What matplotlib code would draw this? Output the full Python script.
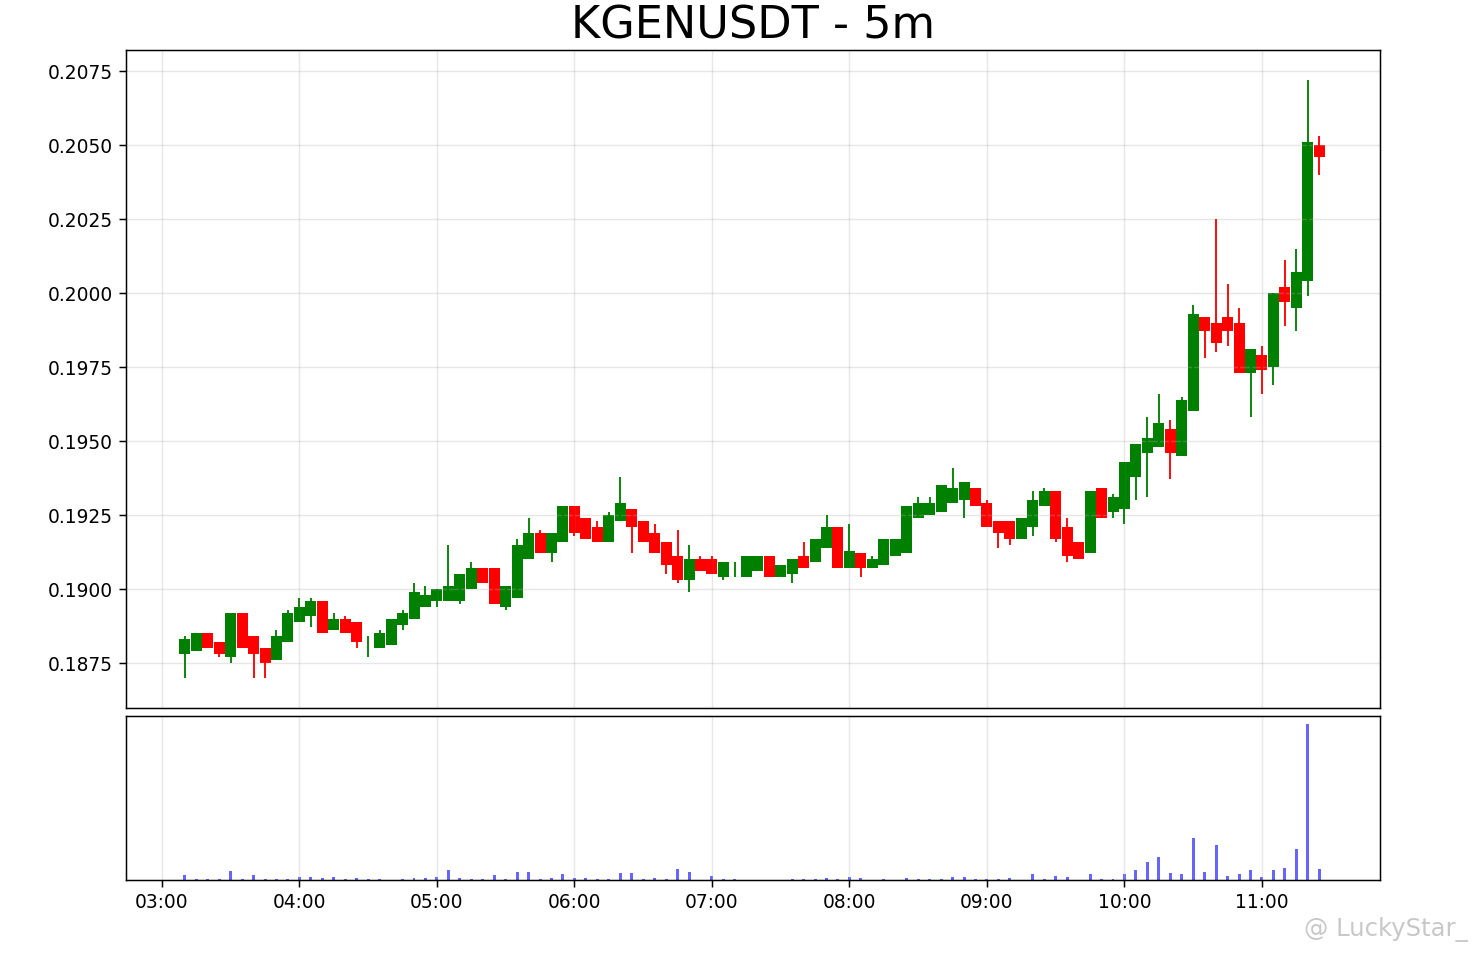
import pandas as pd
import matplotlib
matplotlib.use('Agg')
import matplotlib.pyplot as plt
import matplotlib.dates as mdates

# 5m candles, 03:10 -> 11:25
start = '2025-07-20 03:10'
n_candles = 100

opens = [0.1878, 0.1879, 0.1885, 0.1882, 0.1877, 0.1892, 0.1884, 0.1880, 0.1876, 0.1882,
         0.1889, 0.1891, 0.1896, 0.1886, 0.1890, 0.1889, 0.1881, 0.1880, 0.1881, 0.1888,
         0.1890, 0.1894, 0.1896, 0.1896, 0.1896, 0.1900, 0.1907, 0.1907, 0.1894, 0.1897,
         0.1910, 0.1919, 0.1912, 0.1916, 0.1928, 0.1924, 0.1921, 0.1916, 0.1923, 0.1927,
         0.1923, 0.1919, 0.1916, 0.1911, 0.1903, 0.1910, 0.1910, 0.1904, 0.1907, 0.1904,
         0.1906, 0.1911, 0.1904, 0.1905, 0.1911, 0.1909, 0.1914, 0.1921, 0.1907, 0.1912,
         0.1907, 0.1908, 0.1911, 0.1912, 0.1924, 0.1925, 0.1926, 0.1929, 0.1930, 0.1934,
         0.1929, 0.1923, 0.1923, 0.1917, 0.1921, 0.1928, 0.1933, 0.1921, 0.1916, 0.1912,
         0.1934, 0.1926, 0.1927, 0.1938, 0.1946, 0.1948, 0.1954, 0.1945, 0.1960, 0.1992,
         0.1990, 0.1992, 0.1990, 0.1973, 0.1979, 0.1975, 0.2002, 0.1995, 0.2004, 0.2050]
highs = [0.1884, 0.1885, 0.1885, 0.1882, 0.1892, 0.1892, 0.1884, 0.1880, 0.1886, 0.1893,
         0.1897, 0.1897, 0.1896, 0.1892, 0.1891, 0.1889, 0.1884, 0.1886, 0.1890, 0.1893,
         0.1902, 0.1901, 0.1900, 0.1915, 0.1905, 0.1909, 0.1907, 0.1907, 0.1901, 0.1917,
         0.1924, 0.1920, 0.1919, 0.1928, 0.1928, 0.1924, 0.1923, 0.1926, 0.1938, 0.1927,
         0.1923, 0.1922, 0.1916, 0.1920, 0.1915, 0.1911, 0.1911, 0.1909, 0.1909, 0.1911,
         0.1911, 0.1911, 0.1908, 0.1910, 0.1916, 0.1917, 0.1925, 0.1921, 0.1922, 0.1912,
         0.1911, 0.1917, 0.1917, 0.1928, 0.1931, 0.1931, 0.1935, 0.1941, 0.1936, 0.1934,
         0.1930, 0.1923, 0.1923, 0.1924, 0.1933, 0.1934, 0.1933, 0.1924, 0.1916, 0.1933,
         0.1934, 0.1932, 0.1943, 0.1949, 0.1958, 0.1966, 0.1957, 0.1965, 0.1996, 0.1992,
         0.2025, 0.2003, 0.1995, 0.1981, 0.1982, 0.2000, 0.2011, 0.2015, 0.2072, 0.2053]
lows = [0.1870, 0.1879, 0.1880, 0.1877, 0.1875, 0.1880, 0.1870, 0.1870, 0.1876, 0.1882,
        0.1889, 0.1887, 0.1885, 0.1886, 0.1885, 0.1880, 0.1877, 0.1880, 0.1881, 0.1886,
        0.1890, 0.1894, 0.1894, 0.1896, 0.1895, 0.1900, 0.1902, 0.1895, 0.1893, 0.1897,
        0.1910, 0.1912, 0.1909, 0.1916, 0.1918, 0.1917, 0.1916, 0.1916, 0.1923, 0.1912,
        0.1916, 0.1912, 0.1905, 0.1902, 0.1899, 0.1906, 0.1905, 0.1903, 0.1904, 0.1904,
        0.1906, 0.1904, 0.1904, 0.1902, 0.1907, 0.1909, 0.1914, 0.1907, 0.1907, 0.1904,
        0.1907, 0.1908, 0.1911, 0.1912, 0.1924, 0.1925, 0.1926, 0.1929, 0.1924, 0.1928,
        0.1921, 0.1914, 0.1915, 0.1917, 0.1918, 0.1928, 0.1916, 0.1909, 0.1910, 0.1912,
        0.1924, 0.1924, 0.1922, 0.1930, 0.1931, 0.1948, 0.1937, 0.1945, 0.1960, 0.1978,
        0.1980, 0.1982, 0.1973, 0.1958, 0.1966, 0.1969, 0.1989, 0.1987, 0.1999, 0.2040]
closes = [0.1883, 0.1885, 0.1880, 0.1878, 0.1892, 0.1880, 0.1878, 0.1875, 0.1884, 0.1892,
          0.1894, 0.1896, 0.1885, 0.1890, 0.1885, 0.1882, 0.1881, 0.1885, 0.1890, 0.1892,
          0.1899, 0.1898, 0.1900, 0.1901, 0.1905, 0.1907, 0.1902, 0.1895, 0.1901, 0.1915,
          0.1919, 0.1912, 0.1919, 0.1928, 0.1919, 0.1917, 0.1916, 0.1925, 0.1929, 0.1921,
          0.1916, 0.1912, 0.1908, 0.1903, 0.1910, 0.1906, 0.1905, 0.1909, 0.1907, 0.1911,
          0.1911, 0.1904, 0.1908, 0.1910, 0.1907, 0.1917, 0.1921, 0.1907, 0.1913, 0.1907,
          0.1910, 0.1917, 0.1917, 0.1928, 0.1929, 0.1929, 0.1935, 0.1934, 0.1936, 0.1928,
          0.1921, 0.1919, 0.1917, 0.1924, 0.1930, 0.1933, 0.1917, 0.1911, 0.1910, 0.1933,
          0.1924, 0.1931, 0.1943, 0.1949, 0.1951, 0.1956, 0.1946, 0.1964, 0.1993, 0.1987,
          0.1983, 0.1987, 0.1973, 0.1981, 0.1974, 0.2000, 0.1997, 0.2007, 0.2051, 0.2046]
# volume (thousands)
volumes = [50, 8, 6, 8, 90, 10, 50, 10, 13, 10,
           33, 30, 20, 30, 8, 20, 7, 6, 5, 8,
           17, 23, 30, 97, 17, 13, 10, 50, 7, 80,
           77, 13, 17, 57, 17, 17, 6, 10, 70, 67,
           6, 17, 13, 107, 77, 5, 40, 7, 7, 4,
           5, 5, 4, 7, 7, 7, 17, 7, 27, 17,
           5, 10, 5, 17, 7, 13, 13, 30, 30, 7,
           7, 7, 17, 5, 57, 10, 40, 33, 5, 60,
           13, 10, 57, 100, 180, 233, 73, 57, 420, 77,
           347, 37, 57, 97, 30, 97, 120, 313, 1567, 113]

df = pd.DataFrame({'open': opens, 'high': highs, 'low': lows, 'close': closes, 'volume': volumes},
                  index=pd.date_range(start, periods=n_candles, freq='5min'))

W, H, DPI = 1476, 953, 134
fig = plt.figure(figsize=(W / DPI, H / DPI), dpi=DPI)
ax1 = fig.add_axes([126 / W, 1 - 708 / H, (1380 - 126) / W, (708 - 50) / H])
ax2 = fig.add_axes([126 / W, 1 - 880 / H, (1380 - 126) / W, (880 - 716) / H], sharex=ax1)

body_w = 4.8 / 1440
vol_w = 1.3 / 1440
x = mdates.date2num(df.index.to_pydatetime())

for xi, (_, row) in zip(x, df.iterrows()):
    color = 'green' if row['close'] >= row['open'] else 'red'
    ax1.vlines(xi, row['low'], row['high'], color=color, linewidth=1)
    ax1.bar(xi, abs(row['close'] - row['open']), bottom=min(row['open'], row['close']),
            width=body_w, color=color)

ax2.bar(x, df['volume'], width=vol_w, color='blue', alpha=0.6)

ax1.set_title('KGENUSDT - 5m', fontsize=24)
ax1.set_ylim(0.18598, 0.20821)
ax1.set_yticks([0.1875 + 0.0025 * k for k in range(9)])
ax1.yaxis.set_major_formatter(plt.FormatStrFormatter('%.4f'))
ax1.grid(True, alpha=0.3)
ax1.tick_params(axis='x', length=0, labelbottom=False)

t0 = mdates.date2num(pd.Timestamp('2025-07-20 02:44:20'))
t1 = mdates.date2num(pd.Timestamp('2025-07-20 11:51:30'))
ax1.set_xlim(t0, t1)
ax2.xaxis.set_major_locator(mdates.HourLocator())
ax2.xaxis.set_major_formatter(mdates.DateFormatter('%H:%M'))
ax2.set_yticks([])
ax2.grid(True, axis='x', alpha=0.3)

fig.text(1468 / W, 1 - 929 / H, '@ LuckyStar_', ha='right', va='center',
         fontsize=13, color='#c8c8c8')

fig.savefig('out.png', dpi=DPI)
